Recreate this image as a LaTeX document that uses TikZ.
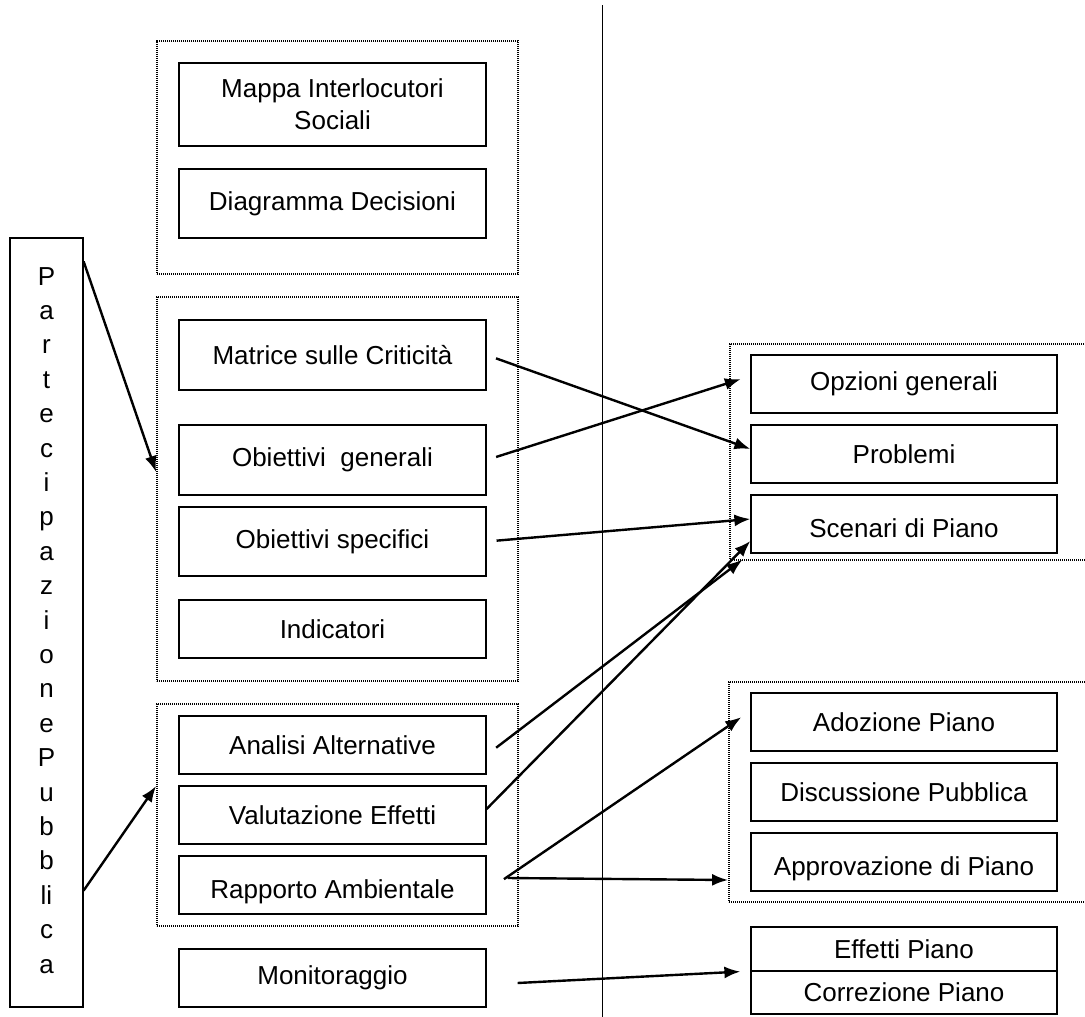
\documentclass[tikz,border=0pt]{standalone}
\usepackage{fontspec}
\setmainfont{Liberation Sans}
\usetikzlibrary{arrows.meta}

\begin{document}
\begin{tikzpicture}[> = {Latex[length = 16pt, width = 12pt]}, x = 1pt, y = -1pt,
	box/.style = {draw, line width = 1.2pt, minimum width = 307pt, inner sep = 0pt, align = center, font = \fontsize{26}{32}\selectfont},
	lower/.style = {text height = 33pt, text depth = 5.5pt},
	group/.style = {draw, line width = 1.8pt, dash pattern = on 1.2pt off 0.8pt, inner sep = 0pt},
	arr/.style = {->, line width = 2.4pt},
	letter/.style = {anchor = base, inner sep = 0pt, font = \fontsize{26}{32}\selectfont}]
\useasboundingbox (0, 0) rectangle (1085, 1017);

% dividing line
\coordinate (vtop) at (602, 5);
\coordinate (vbot) at (602, 1017);
\draw [line width = 1pt] (vtop) -- (vbot);

% left column
\node [group, minimum width = 361pt, minimum height = 233pt] (grp1) at (337.5, 157.5) {};
\node [box, minimum height = 83pt] (mappa) at (332.5, 104.5) {Mappa Interlocutori\\Sociali};
\node [box, minimum height = 69pt] (diagramma) at (332.5, 203.5) {Diagramma Decisioni};

\node [group, minimum width = 361pt, minimum height = 384pt] (grp2) at (337.5, 489) {};
\node [box, minimum height = 70pt] (matrice) at (332.5, 355) {Matrice sulle Criticità};
\node [box, minimum height = 70pt] (obgen) at (332.5, 460) {Obiettivi\ \ generali};
\node [box, minimum height = 69pt] (obspec) at (332.5, 541.5) {Obiettivi specifici};
\node [box, minimum height = 58pt] (indic) at (332.5, 629) {Indicatori};

\node [group, minimum width = 361pt, minimum height = 222pt] (grp3) at (337.5, 815) {};
\node [box, minimum height = 58pt] (analisi) at (332.5, 745) {Analisi Alternative};
\node [box, minimum height = 58pt] (valut) at (332.5, 815) {Valutazione Effetti};
\node [box, lower, minimum height = 58pt] (rapporto) at (332.5, 885) {Rapporto Ambientale};

\node [box, minimum height = 58pt] (monitor) at (332.5, 978) {Monitoraggio};

% partecipazione pubblica
\node [draw, line width = 1.2pt, minimum width = 73pt, minimum height = 769pt] (part) at (46.5, 622.5) {};
\foreach \ch [count = \i from 0] in {P,a,r,t,e,c,i,p,a,z,i,o,n,e,P,u,b,b,li,c,a}
	\node [letter] (ch\i) at (46.5, {285 + 34.4*\i}) {\ch};

% right column
\node [group, minimum width = 360pt, minimum height = 216pt] (grpA) at (910, 452) {};
\node [box, minimum width = 306pt, minimum height = 58pt] (opzioni) at (904, 384) {Opzioni generali};
\node [box, minimum width = 306pt, minimum height = 58pt] (problemi) at (904, 454) {Problemi};
\node [box, lower, minimum width = 306pt, minimum height = 58pt] (scenari) at (904, 524) {Scenari di Piano};

\node [group, minimum width = 361pt, minimum height = 220pt] (grpB) at (909.5, 792) {};
\node [box, minimum width = 306pt, minimum height = 58pt] (adozione) at (904, 722) {Adozione Piano};
\node [box, minimum width = 306pt, minimum height = 58pt] (discussione) at (904, 792) {Discussione Pubblica};
\node [box, lower, minimum width = 306pt, minimum height = 58pt] (approvazione) at (904, 862) {Approvazione di Piano};

\node [box, minimum width = 306pt, minimum height = 44pt] (effetti) at (904, 949) {Effetti Piano};
\node [box, minimum width = 306pt, minimum height = 43pt] (correzione) at (904, 992.5) {Correzione Piano};

% connectors
\draw [arr] ([yshift = -24pt]part.north east) -- ([yshift = 17pt]grp2.west);
\draw [arr] ([yshift = 117pt]part.south east) -- ([yshift = 29pt]grp3.west);

\draw [arr, shorten <= 10pt] (matrice.east) -- ([yshift = 5pt]problemi.west);
\draw [arr, shorten <= 10pt, shorten >= 10pt] (obgen.east) -- ([yshift = 8pt]opzioni.west);
\draw [arr, shorten <= 10pt] (obspec.east) -- ([yshift = 5pt]scenari.west);
\draw [arr, shorten <= 12pt, shorten >= 10pt] ([yshift = -10pt]analisi.east) -- (scenari.south west);
\draw [arr] ([yshift = 6pt]valut.east) -- ([yshift = -17pt]scenari.west);
\draw [arr, shorten <= 21pt, shorten >= 11pt] ([yshift = -6pt]rapporto.east) -- ([yshift = 11pt]adozione.west);
\draw [arr] ([xshift = 21pt, yshift = 7pt]rapporto.east) -- ([yshift = -88pt]grpB.west);
\draw [arr] ([xshift = 31pt, yshift = -5pt]monitor.east) -- ([xshift = -10pt]effetti.south west);

\end{tikzpicture}
\end{document}
